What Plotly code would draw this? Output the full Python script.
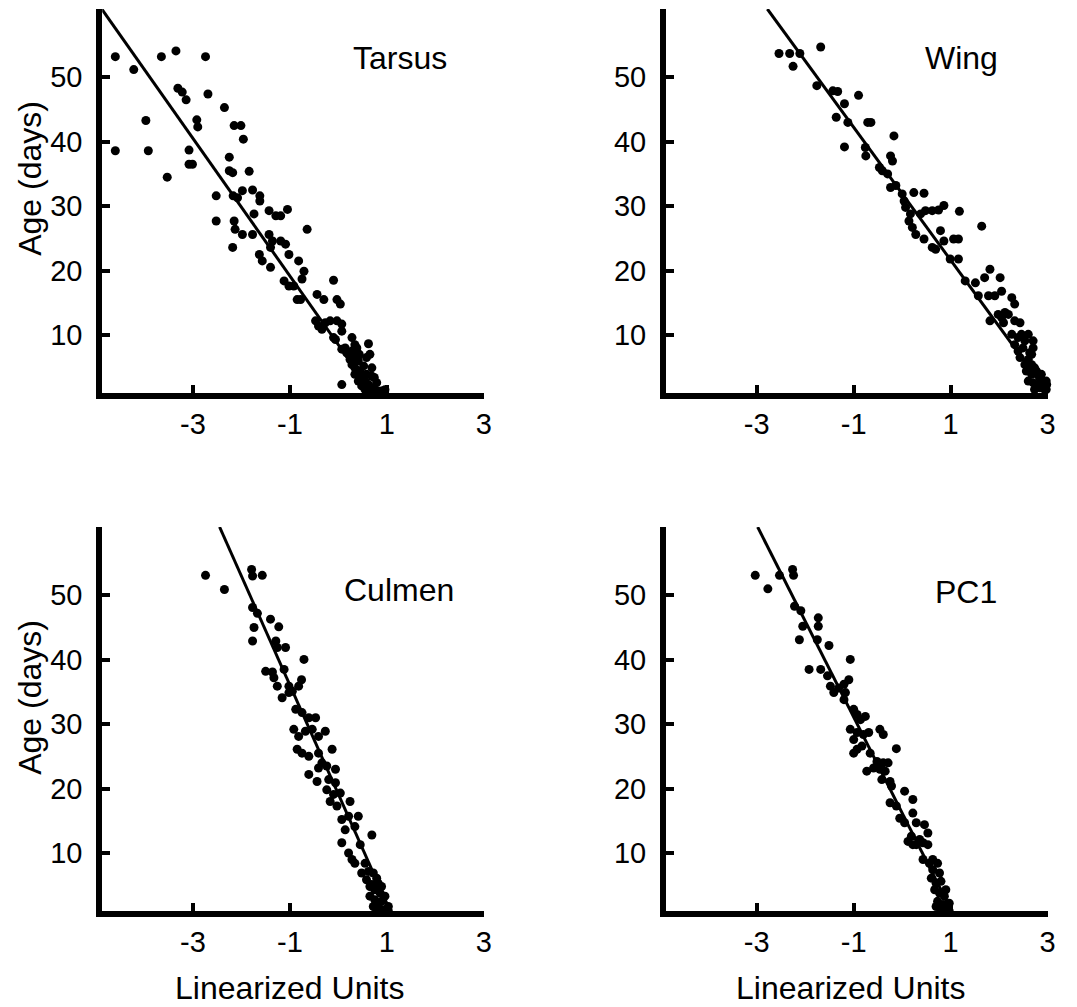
import plotly.graph_objects as go

# ---------------- data ----------------
tarsus_x = [-4.60, -4.22, -3.65, -3.35, -2.74, -3.97, -4.60, -3.92, -3.53, -3.31, -3.22, -3.14, -2.69,
            -2.35, -2.92, -2.90, -3.08, -3.08, -3.01, -2.15, -2.01, -1.96, -2.25, -2.25, -2.18, -1.84,
            -2.52, -2.52, -2.17, -2.08, -1.98, -1.77, -1.62, -1.62, -2.18, -2.15, -2.13, -1.98, -1.77,
            -1.74, -1.43, -1.29, -1.19, -1.05, -1.43, -1.40, -1.36, -1.19, -1.09, -1.02, -1.63, -1.57,
            -1.40, -1.12, -1.02, -0.92, -0.82, -0.71, -0.75, -0.85, -0.78, -0.645, -0.44, -0.30, -0.10,
            -0.03, 0.04, -0.47, -0.41, -0.27, -0.17, -0.03, 0.07, -0.10, -0.06, 0.28, 0.34, 0.62, 0.07,
            0.96, 0.14, 0.21, 0.28, 0.34, 0.41, 0.28, 0.34, 0.45, 0.52, 0.58, 0.65, 0.48, 0.55, 0.62,
            0.69, 0.72, 0.75, 0.65, 0.55, 0.48, 0.41, 0.34, 0.24, 0.17, 0.07, 0.69, 0.74, 0.79, 0.82,
            0.89, 0.58, 0.43, 0.38, -0.34, 0.07]
tarsus_y = [53.2, 51.2, 53.2, 54.1, 53.2, 43.3, 38.6, 38.6, 34.5, 48.3, 47.7, 46.5, 47.4,
            45.3, 43.4, 42.3, 38.7, 36.5, 36.5, 42.5, 42.5, 40.4, 37.6, 35.5, 35.2, 35.4,
            31.6, 27.7, 31.6, 31.3, 32.4, 32.5, 31.6, 30.8, 23.6, 27.7, 26.4, 25.6, 25.6,
            28.8, 29.3, 28.5, 28.5, 29.5, 25.6, 23.6, 24.6, 24.6, 24.1, 22.5, 22.5, 21.5,
            20.5, 18.4, 17.6, 17.6, 21.5, 19.9, 18.7, 15.5, 15.5, 26.4, 16.3, 15.5, 18.5,
            15.5, 14.8, 12.2, 11.4, 11.9, 12.2, 12.2, 11.7, 9.6, 9.3, 9.6, 8.5, 8.65, 2.3,
            1.5, 8.0, 7.0, 7.5, 6.5, 6.0, 5.4, 4.9, 4.4, 5.2, 6.5, 7.0, 3.4, 2.85, 2.3,
            3.6, 1.8, 1.0, 1.3, 1.55, 2.1, 2.85, 3.9, 6.2, 7.25, 7.8, 4.9, 3.4, 2.6, 1.3,
            1.3, 3.9, 7.0, 8.0, 10.9, 10.6]

wing_x = [-2.54, -2.32, -2.11, -2.25, -1.68, -1.76, -1.43, -1.33, -1.19, -1.36, -1.12, -0.90, -1.19,
          -0.71, -0.645, -0.76, -0.75, -0.47, -0.41, -0.24, -0.20, -0.17, -0.30, -0.24, -0.13, 0.00,
          0.04, 0.07, 0.24, 0.45, 0.17, 0.14, 0.21, 0.28, 0.38, 0.48, 0.62, 0.75, 0.86, 0.45, 0.62,
          0.69, 0.79, 0.86, 1.06, 1.16, 1.18, 1.64, 0.99, 1.16, 1.30, 1.51, 1.57, 1.70, 1.81, 1.78,
          1.91, 2.02, 2.05, 1.81, 1.98, 2.09, 2.26, 2.32, 2.12, 2.19, 2.32, 2.43, 2.26, 2.39, 2.53,
          2.60, 2.70, 2.39, 2.49, 2.63, 2.70, 2.43, 2.53, 2.67, 2.56, 2.67, 2.77, 2.84, 2.60, 2.70,
          2.80, 2.90, 2.94, 2.84, 2.97, 2.73, 2.97, 2.32, 2.46, 2.60, 2.73, 2.87, 2.98, 2.67, 2.05]
wing_y = [53.7, 53.7, 53.7, 51.7, 54.7, 48.7, 47.9, 47.8, 45.9, 43.8, 43.0, 47.2, 39.2,
          43.0, 43.0, 39.1, 37.8, 36.0, 35.5, 37.8, 37.0, 40.9, 35.0, 32.9, 33.2, 31.9,
          30.8, 29.8, 32.1, 32.0, 28.8, 27.7, 26.7, 25.6, 28.8, 29.3, 29.3, 29.4, 30.1, 24.9, 23.6,
          23.3, 26.2, 24.6, 24.9, 24.9, 29.2, 26.9, 21.8, 21.8, 18.4, 18.1, 16.1, 18.9, 20.2, 16.1,
          16.1, 18.9, 16.8, 12.2, 13.2, 11.9, 15.8, 14.8, 13.5, 13.2, 12.2, 11.9, 10.1, 9.6, 9.1,
          10.1, 9.1, 7.5, 8.0, 7.25, 8.0, 6.5, 5.4, 5.4, 4.4, 3.9, 4.4, 3.4, 2.85, 2.6,
          2.3, 2.3, 1.55, 1.8, 1.55, 1.55, 2.85, 8.5, 10.1, 6.2, 4.9, 3.9, 2.3, 7.0, 12.7]

culmen_x = [-2.74, -2.35, -1.79, -1.77, -1.57, -1.77, -1.67, -1.40, -1.23, -1.74, -1.77, -1.29, -1.26,
            -1.09, -0.71, -1.50, -1.36, -1.33, -1.26, -1.16, -1.02, -0.95, -0.82, -0.76, -0.88, -0.75,
            -0.61, -0.47, -0.92, -0.82, -0.68, -0.54, -0.41, -0.27, -0.85, -0.75, -0.61, -0.41, -0.34,
            -0.13, -0.41, -0.24, -0.06, -0.61, -0.44, -0.20, -0.06, -0.24, -0.10, 0.04, -0.17, -0.03,
            0.24, 0.07, 0.21, 0.14, 0.34, 0.45, 0.28, 0.34, 0.55, 0.69, 0.62, 0.72, 0.79, 0.58, 0.82,
            0.69, 0.75, 0.86, 0.65, 0.75, 0.89, 0.82, 0.92, 0.72, 0.96, 1.03, 0.86, 0.79, -1.12, -1.02,
            0.48, 0.89, 0.96, 1.03, 0.65, 0.21, 0.07, 0.41]
culmen_y = [53.1, 50.9, 54.0, 53.0, 53.1, 48.1, 47.2, 46.3, 45.1, 45.0, 42.9, 42.9, 41.9,
            41.9, 40.05, 38.2, 38.1, 37.2, 35.9, 34.1, 35.9, 35.1, 35.9, 36.9, 32.3, 31.8,
            31.0, 31.0, 29.2, 28.1, 28.9, 29.2, 28.1, 28.9, 26.1, 25.5, 25.0, 25.5, 24.0,
            26.1, 23.2, 23.5, 23.0, 22.2, 21.1, 21.4, 20.9, 19.8, 19.1, 19.3, 18.0, 17.3,
            18.0, 15.2, 15.7, 13.6, 14.1, 11.3, 9.0, 8.4, 8.4, 12.8, 7.15, 6.9, 6.1, 5.85, 5.3,
            5.1, 4.3, 3.8, 3.3, 2.75, 2.5, 1.7, 1.2, 1.7, 1.0, 1.0, 1.0, 1.0, 38.5, 34.9,
            6.9, 4.8, 3.3, 1.7, 4.8, 10.0, 11.6, 15.7]

pc1_x = [-3.03, -2.77, -2.53, -2.26, -2.24, -2.22, -2.09, -2.05, -1.73, -1.73, -2.12, -1.75, -1.51,
         -1.92, -1.68, -1.54, -1.48, -1.41, -1.31, -1.20, -1.10, -1.07, -1.17, -1.20, -1.00, -0.93,
         -0.86, -0.76, -1.07, -0.93, -0.80, -0.69, -1.00, -0.93, -0.83, -1.00, -0.66, -0.46, -0.39,
         -0.12, -0.52, -0.39, -0.29, -0.73, -0.59, -0.46, -0.35, -0.42, -0.25, -0.22, 0.05, -0.25,
         -0.12, 0.22, 0.22, -0.05, 0.05, 0.29, 0.46, 0.12, 0.22, 0.36, 0.53, 0.53, 0.43, 0.56, 0.73,
         0.63, 0.77, 0.60, 0.70, 0.80, 0.67, 0.77, 0.87, 0.73, 0.84, 0.94, 0.80, 0.90, 0.97, 0.84,
         0.63, 0.90, 0.97, 0.70, 0.29, 0.43, 0.19]
pc1_y = [53.1, 51.0, 53.1, 54.0, 53.1, 48.3, 47.6, 45.2, 46.5, 45.2, 43.1, 43.1, 42.2,
         38.5, 38.5, 37.5, 35.9, 34.9, 35.6, 36.2, 36.9, 40.05, 34.9, 33.8, 32.3, 31.5,
         30.7, 31.2, 29.2, 28.7, 28.4, 28.7, 27.6, 26.1, 26.6, 25.5, 25.5, 29.2, 28.4,
         26.2, 24.2, 24.0, 24.0, 22.7, 23.2, 23.0, 22.7, 21.4, 21.1, 20.4, 19.6, 17.8,
         17.3, 18.3, 16.2, 15.4, 14.7, 14.7, 14.4, 11.8, 11.3, 12.1, 13.1, 11.3, 9.0, 8.4, 8.4,
         7.4, 6.9, 6.1, 5.3, 5.6, 4.3, 3.8, 3.3, 2.5, 2.0, 1.7, 1.2, 1.0, 1.0, 1.0,
         9.0, 4.3, 2.2, 1.7, 11.3, 11.6, 12.6]

# regression lines: x positions at ages 60.6 (top of axis) and 1
line_age = [60.6, 1.0]
tarsus_line_x = [-4.88, 0.70]
wing_line_x = [-2.78, 3.00]
culmen_line_x = [-2.45, 1.07]
pc1_line_x = [-2.98, 1.02]

panel_names = ["Tarsus", "Wing", "Culmen", "PC1"]
x_ticks = [-3, -1, 1, 3]
y_ticks = [10, 20, 30, 40, 50, 60.6]
y_tick_text = ["10", "20", "30", "40", "50", ""]
x_range = [-4.87, 3]
y_range = [1.0, 60.6]

# ---------------- figure ----------------
W, H = 1077, 1007
FONT = "Liberation Sans, Arial, Helvetica, sans-serif"
TICK_SIZE = 29
TITLE_SIZE = 32


def px_x(p):
    return p / W


def px_y(p):
    return 1 - p / H


x_domains = [[px_x(103), px_x(487.5)], [px_x(671), px_x(1055.5)]]
y_domains = [[px_y(393), px_y(9)], [px_y(911), px_y(527)]]

panels = [
    (tarsus_x, tarsus_y, tarsus_line_x),
    (wing_x, wing_y, wing_line_x),
    (culmen_x, culmen_y, culmen_line_x),
    (pc1_x, pc1_y, pc1_line_x),
]

fig = go.Figure()
layout = dict(
    width=W, height=H,
    margin=dict(l=0, r=0, t=0, b=0),
    paper_bgcolor="white", plot_bgcolor="white",
    showlegend=False,
    font=dict(family=FONT, size=TICK_SIZE, color="black"),
)

annotations = []
label_pos = [(403, 58), (969, 58), (402, 590), (973, 592)]
for i, (xs, ys, lx) in enumerate(panels):
    n = "" if i == 0 else str(i + 1)
    xa, ya = "x" + n, "y" + n
    fig.add_trace(go.Scatter(x=lx, y=line_age, mode="lines", xaxis=xa, yaxis=ya,
                             line=dict(color="black", width=3)))
    fig.add_trace(go.Scatter(x=xs, y=ys, mode="markers", xaxis=xa, yaxis=ya,
                             marker=dict(color="black", size=9, line=dict(width=0)),
                             cliponaxis=False))
    col, row = i % 2, i // 2
    axcommon = dict(showline=True, linecolor="black", linewidth=6, ticks="inside",
                    ticklen=8, tickwidth=4, tickcolor="black", showgrid=False,
                    zeroline=False, tickfont=dict(family=FONT, size=TICK_SIZE, color="black"),
                    fixedrange=True)
    layout["xaxis" + n] = dict(axcommon, domain=x_domains[col], range=x_range,
                               tickvals=x_ticks, ticktext=[str(v) for v in x_ticks],
                               anchor=ya, ticklabelstandoff=0)
    layout["yaxis" + n] = dict(axcommon, domain=y_domains[row], range=y_range,
                               tickvals=y_ticks, ticktext=y_tick_text,
                               anchor=xa, ticklabelstandoff=8)
    lxp, lyp = label_pos[i]
    annotations.append(dict(text=panel_names[i], x=px_x(lxp), y=px_y(lyp), xref="paper",
                            yref="paper", showarrow=False, xanchor="center", yanchor="middle",
                            font=dict(family=FONT, size=TITLE_SIZE, color="black")))

for yy in (178, 697):
    annotations.append(dict(text="Age (days)", x=px_x(30), y=px_y(yy), xref="paper", yref="paper",
                            showarrow=False, textangle=-90, xanchor="center", yanchor="middle",
                            font=dict(family=FONT, size=TITLE_SIZE, color="black")))
for xx in (292, 857):
    annotations.append(dict(text="Linearized Units", x=px_x(xx), y=px_y(988), xref="paper",
                            yref="paper", showarrow=False, xanchor="center", yanchor="middle",
                            font=dict(family=FONT, size=TITLE_SIZE, color="black")))
layout["annotations"] = annotations
fig.update_layout(**layout)
fig.write_html("out.html",
               config={"displayModeBar": False, "staticPlot": True},
               post_script="document.body.style.margin='0';document.body.style.overflow='hidden';")
